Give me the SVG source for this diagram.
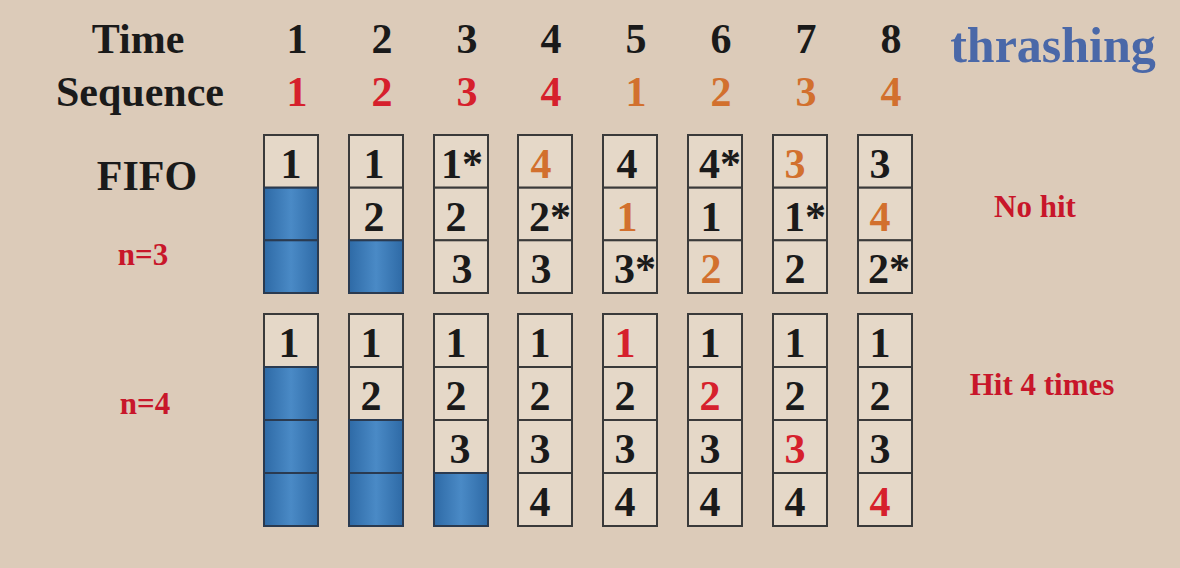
<svg xmlns="http://www.w3.org/2000/svg" width="1180" height="568" viewBox="0 0 1180 568">
<defs>
<linearGradient id="bl" x1="0" y1="0" x2="1" y2="0">
<stop offset="0" stop-color="#2e6aa6"/>
<stop offset="0.5" stop-color="#4a8ac6"/>
<stop offset="1" stop-color="#2e6aa6"/>
</linearGradient>
<style>
text{font-family:"Liberation Serif","Times New Roman",serif;font-weight:bold;text-anchor:middle}
.h{font-size:42px;fill:#1a1a1a}
.c{fill:#e5d8c8;stroke:#3a3a3a;stroke-width:2}
.b{fill:url(#bl);stroke:#2a3a50;stroke-width:2}
.n{font-size:42px;fill:#1a1a1a}
.o{fill:#d2702e}
.r{fill:#d6202c}
.lab{font-size:31px;fill:#c8162a}
</style>
</defs>
<rect width="1180" height="568" fill="#dccbb9"/>
<g id="header">
<text class="h" x="138" y="53">Time</text>
<text class="h" x="140" y="106">Sequence</text>
<text class="h" x="297" y="53">1</text>
<text class="h" x="382" y="53">2</text>
<text class="h" x="467" y="53">3</text>
<text class="h" x="551" y="53">4</text>
<text class="h" x="636" y="53">5</text>
<text class="h" x="721" y="53">6</text>
<text class="h" x="806" y="53">7</text>
<text class="h" x="891" y="53">8</text>
<text class="h r" x="297" y="106">1</text>
<text class="h r" x="382" y="106">2</text>
<text class="h r" x="467" y="106">3</text>
<text class="h r" x="551" y="106">4</text>
<text class="h o" x="636" y="106">1</text>
<text class="h o" x="721" y="106">2</text>
<text class="h o" x="806" y="106">3</text>
<text class="h o" x="891" y="106">4</text>
<text x="1053" y="62" style="font-size:50px;fill:#4a68a8">thrashing</text>
<text class="h" x="147" y="190">FIFO</text>
<text class="lab" x="143" y="265">n=3</text>
<text class="lab" x="145" y="414">n=4</text>
<text class="lab" x="1035" y="217">No hit</text>
<text class="lab" x="1042" y="395">Hit 4 times</text>
</g>
<g id="fifo3">
<g id="f3c1"><rect class="c" x="264" y="135" width="54" height="52.7"/><rect class="b" x="264" y="187.7" width="54" height="52.7"/><rect class="b" x="264" y="240.3" width="54" height="52.7"/><text class="n" x="291" y="178">1</text></g>
<g id="f3c2"><rect class="c" x="349" y="135" width="54" height="52.7"/><rect class="c" x="349" y="187.7" width="54" height="52.7"/><rect class="b" x="349" y="240.3" width="54" height="52.7"/><text class="n" x="374" y="178">1</text><text class="n" x="374" y="231">2</text></g>
<g id="f3c3"><rect class="c" x="434" y="135" width="54" height="52.7"/><rect class="c" x="434" y="187.7" width="54" height="52.7"/><rect class="c" x="434" y="240.3" width="54" height="52.7"/><text class="n" x="462" y="178">1*</text><text class="n" x="456" y="231">2</text><text class="n" x="462" y="283">3</text></g>
<g id="f3c4"><rect class="c" x="518" y="135" width="54" height="52.7"/><rect class="c" x="518" y="187.7" width="54" height="52.7"/><rect class="c" x="518" y="240.3" width="54" height="52.7"/><text class="n o" x="541" y="178">4</text><text class="n" x="550" y="231">2*</text><text class="n" x="541" y="283">3</text></g>
<g id="f3c5"><rect class="c" x="603" y="135" width="54" height="52.7"/><rect class="c" x="603" y="187.7" width="54" height="52.7"/><rect class="c" x="603" y="240.3" width="54" height="52.7"/><text class="n" x="627" y="178">4</text><text class="n o" x="627" y="231">1</text><text class="n" x="635" y="283">3*</text></g>
<g id="f3c6"><rect class="c" x="688" y="135" width="54" height="52.7"/><rect class="c" x="688" y="187.7" width="54" height="52.7"/><rect class="c" x="688" y="240.3" width="54" height="52.7"/><text class="n" x="720" y="178">4*</text><text class="n" x="711" y="231">1</text><text class="n o" x="711" y="283">2</text></g>
<g id="f3c7"><rect class="c" x="773" y="135" width="54" height="52.7"/><rect class="c" x="773" y="187.7" width="54" height="52.7"/><rect class="c" x="773" y="240.3" width="54" height="52.7"/><text class="n o" x="795" y="178">3</text><text class="n" x="805" y="231">1*</text><text class="n" x="795" y="283">2</text></g>
<g id="f3c8"><rect class="c" x="858" y="135" width="54" height="52.7"/><rect class="c" x="858" y="187.7" width="54" height="52.7"/><rect class="c" x="858" y="240.3" width="54" height="52.7"/><text class="n" x="880" y="178">3</text><text class="n o" x="880" y="231">4</text><text class="n" x="889" y="283">2*</text></g>
</g>
<g id="fifo4">
<g id="f4c1"><rect class="c" x="264" y="314" width="54" height="53"/><rect class="b" x="264" y="367" width="54" height="53"/><rect class="b" x="264" y="420" width="54" height="53"/><rect class="b" x="264" y="473" width="54" height="53"/><text class="n" x="289" y="357">1</text></g>
<g id="f4c2"><rect class="c" x="349" y="314" width="54" height="53"/><rect class="c" x="349" y="367" width="54" height="53"/><rect class="b" x="349" y="420" width="54" height="53"/><rect class="b" x="349" y="473" width="54" height="53"/><text class="n" x="371" y="357">1</text><text class="n" x="371" y="410">2</text></g>
<g id="f4c3"><rect class="c" x="434" y="314" width="54" height="53"/><rect class="c" x="434" y="367" width="54" height="53"/><rect class="c" x="434" y="420" width="54" height="53"/><rect class="b" x="434" y="473" width="54" height="53"/><text class="n" x="456" y="357">1</text><text class="n" x="456" y="410">2</text><text class="n" x="460" y="463">3</text></g>
<g id="f4c4"><rect class="c" x="518" y="314" width="54" height="53"/><rect class="c" x="518" y="367" width="54" height="53"/><rect class="c" x="518" y="420" width="54" height="53"/><rect class="c" x="518" y="473" width="54" height="53"/><text class="n" x="540" y="357">1</text><text class="n" x="540" y="410">2</text><text class="n" x="540" y="463">3</text><text class="n" x="540" y="516">4</text></g>
<g id="f4c5"><rect class="c" x="603" y="314" width="54" height="53"/><rect class="c" x="603" y="367" width="54" height="53"/><rect class="c" x="603" y="420" width="54" height="53"/><rect class="c" x="603" y="473" width="54" height="53"/><text class="n r" x="625" y="357">1</text><text class="n" x="625" y="410">2</text><text class="n" x="625" y="463">3</text><text class="n" x="625" y="516">4</text></g>
<g id="f4c6"><rect class="c" x="688" y="314" width="54" height="53"/><rect class="c" x="688" y="367" width="54" height="53"/><rect class="c" x="688" y="420" width="54" height="53"/><rect class="c" x="688" y="473" width="54" height="53"/><text class="n" x="710" y="357">1</text><text class="n r" x="710" y="410">2</text><text class="n" x="710" y="463">3</text><text class="n" x="710" y="516">4</text></g>
<g id="f4c7"><rect class="c" x="773" y="314" width="54" height="53"/><rect class="c" x="773" y="367" width="54" height="53"/><rect class="c" x="773" y="420" width="54" height="53"/><rect class="c" x="773" y="473" width="54" height="53"/><text class="n" x="795" y="357">1</text><text class="n" x="795" y="410">2</text><text class="n r" x="795" y="463">3</text><text class="n" x="795" y="516">4</text></g>
<g id="f4c8"><rect class="c" x="858" y="314" width="54" height="53"/><rect class="c" x="858" y="367" width="54" height="53"/><rect class="c" x="858" y="420" width="54" height="53"/><rect class="c" x="858" y="473" width="54" height="53"/><text class="n" x="880" y="357">1</text><text class="n" x="880" y="410">2</text><text class="n" x="880" y="463">3</text><text class="n r" x="880" y="516">4</text></g>
</g>
<g id="connectors"/>
</svg>
